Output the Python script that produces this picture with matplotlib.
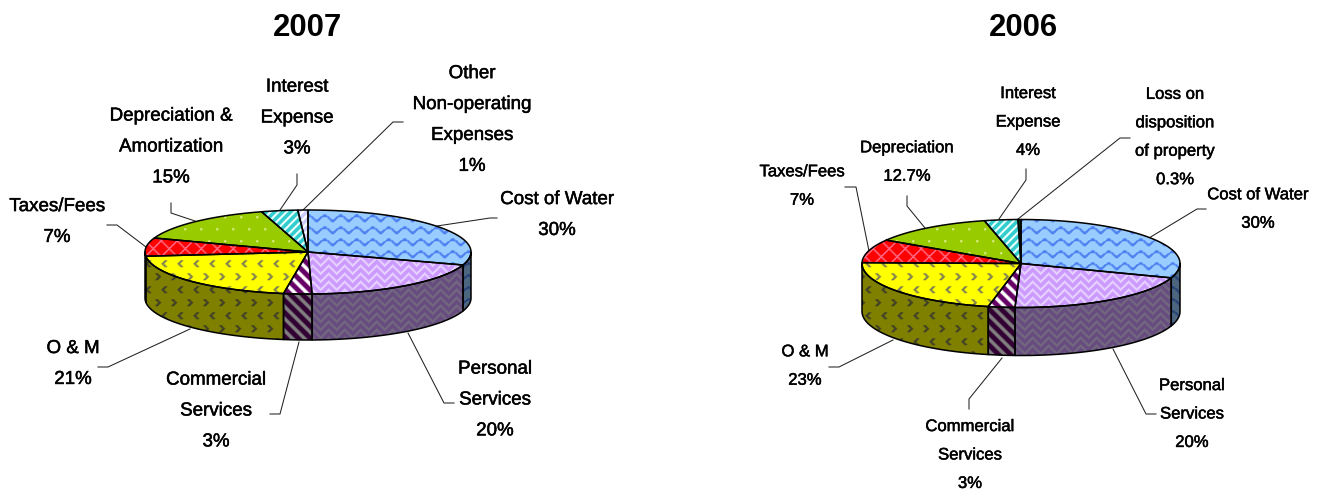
import numpy as np
import matplotlib
matplotlib.use("Agg")
import matplotlib.pyplot as plt
import matplotlib.patheffects as pe
from matplotlib.patches import PathPatch
from matplotlib.path import Path

# =========================
# DATA
# =========================
labels_2007 = ["Cost of Water", "Personal\nServices", "Commercial\nServices", "O & M",
               "Taxes/Fees", "Depreciation &\nAmortization", "Interest\nExpense",
               "Other\nNon-operating\nExpenses"]
shown_2007 = ["30%", "20%", "3%", "21%", "7%", "15%", "3%", "1%"]
values_2007 = [30.0, 19.6, 2.8, 21.0, 7.0, 15.0, 3.6, 1.0]

labels_2006 = ["Cost of Water", "Personal\nServices", "Commercial\nServices", "O & M",
               "Taxes/Fees", "Depreciation", "Interest\nExpense",
               "Loss on\ndisposition\nof property"]
shown_2006 = ["30%", "20%", "3%", "23%", "7%", "12.7%", "4%", "0.3%"]
values_2006 = [30.3, 20.3, 2.7, 22.0, 8.6, 12.4, 3.4, 0.3]

# =========================
# STYLE / LAYOUT (pixels)
# =========================
W, H = 1324, 493
fills = ["#99CCFF", "#CC99FF", "#660066", "#FFFF00", "#FF0000", "#99CC00", "#33CCCC"]
inks = ["#4D80F0", "#E6D2FF", "#FFFFFF", "#808050", "#FF6F8C", "#E4F0A0", "#E8FFFF"]
kinds = ["wave", "weave", "down", "chevron", "lattice", "dots", "up"]

label_pos_2007 = [(557, 215), (495, 400), (216, 411), (73, 364),
                  (57, 222), (171, 147), (297, 118), (472, 120)]
label_pos_2006 = [(1258, 209), (1192, 414), (970, 455), (805, 366),
                  (802, 186), (907, 162), (1028, 122), (1175, 137)]

leaders_2007 = [
    [(437, 226), (490, 218), (497, 218)],
    [(408, 333), (444, 403), (454, 403)],
    [(299, 342), (280, 414), (270, 414)],
    [(190, 329), (108, 367), (98, 367)],
    [(146, 247), (117, 225), (107, 225)],
    [(195, 221), (171, 213), (171, 203)],
    [(280, 210), (297, 185), (297, 174)],
    [(303, 210), (393, 122), (403, 122)],
]
leaders_2006 = [
    [(1149, 238), (1197, 209), (1206, 209)],
    [(1113, 349), (1146, 414), (1156, 414)],
    [(1002, 358), (969, 399), (969, 409)],
    [(893, 340), (839, 367), (829, 367)],
    [(869, 251), (856, 187), (845, 187)],
    [(925, 228), (907, 206), (907, 196)],
    [(999, 219), (1026, 180), (1026, 169)],
    [(1018, 219), (1120, 138), (1130, 138)],
]


# =========================
# FILL PATTERNS
# =========================
def pattern_mask(kind):
    yy, xx = np.mgrid[0:H, 0:W]
    if kind == "wave":
        m = ((yy + 2.6 * np.sin(xx * 2 * np.pi / 16)) % 12) < 2.6
    elif kind == "weave":
        even = (xx // 8) % 2 == 0
        m = np.where(even, (yy + xx) % 8 < 2.5, (yy - xx) % 8 < 2.5)
    elif kind == "down":
        m = ((xx - yy) % 12) < 5
    elif kind == "up":
        m = ((xx + yy) % 8) < 2.5
    elif kind == "chevron":
        rows = yy // 13
        x2 = (xx + 8 * (rows % 2)) % 16
        y2 = yy % 13
        arm = np.abs(y2 - 3)
        left = np.abs(x2 - 2 - arm) < 1.6
        right = np.abs(x2 - 7 + arm) < 1.6
        m = np.where(rows % 2 == 0, left, right) & (y2 < 7)
    elif kind == "lattice":
        m = ((xx + yy) % 16 < 2) | ((xx - yy) % 16 < 2)
    else:
        rows = yy // 12
        m = ((yy % 12) < 2) & (((xx + 8 * (rows % 2)) % 16) < 2)
    m = m.astype(float)
    # a little softening, the original is a rescaled bitmap
    return (m * 2 + np.roll(m, 1, 0) + np.roll(m, 1, 1)) / 4


def pattern_image(fill, ink, kind, shade=1.0):
    mask = pattern_mask(kind)[..., None]
    c1 = np.array(matplotlib.colors.to_rgb(fill))
    c2 = np.array(matplotlib.colors.to_rgb(ink))
    return (c1 * (1 - mask) + c2 * mask) * shade


def rim(cx, cy, a, b, t0, t1, n=80):
    t = np.radians(np.linspace(t0, t1, n))
    return np.column_stack([cx + a * np.sin(t), cy - b * np.cos(t)])


def fill_path(ax, verts, img, lw=1.1):
    path = Path(np.vstack([verts, verts[:1]]), closed=True)
    patch = PathPatch(path, facecolor="none", edgecolor="black", lw=lw, zorder=3, joinstyle="round")
    ax.add_patch(patch)
    im = ax.imshow(img, extent=(0, W, H, 0), interpolation="nearest", aspect="auto", zorder=2)
    im.set_clip_path(patch)


def draw_pie(ax, values, cx, cy, a, b, depth, styles):
    angles = np.concatenate([[0], np.cumsum(values)]) / np.sum(values) * 360
    # side wall, only the front half can be seen
    for i, (fill, ink, kind) in enumerate(styles):
        t0, t1 = max(angles[i], 90), min(angles[i + 1], 270)
        if t1 <= t0:
            continue
        top = rim(cx, cy, a, b, t0, t1)
        bottom = rim(cx, cy + depth, a, b, t1, t0)
        fill_path(ax, np.vstack([top, bottom]), pattern_image(fill, ink, kind, 0.5))
    # top face
    for i, (fill, ink, kind) in enumerate(styles):
        arc = rim(cx, cy, a, b, angles[i], angles[i + 1])
        fill_path(ax, np.vstack([[(cx, cy)], arc]), pattern_image(fill, ink, kind))


def draw_labels(ax, labels, shown, positions, leaders, size, spacing):
    for name, pct, pos, line in zip(labels, shown, positions, leaders):
        t = ax.text(pos[0], pos[1], name + "\n" + pct, ha="center", va="center",
                    family="Liberation Sans", fontsize=size, linespacing=spacing,
                    color="black", zorder=5)
        # the original text is heavier than plain regular
        t.set_path_effects([pe.withStroke(linewidth=0.35, foreground="black")])
        xs, ys = zip(*line)
        ax.plot(xs, ys, color="#222222", lw=0.75, zorder=1)


# =========================
# FIGURE
# =========================
fig = plt.figure(figsize=(W / 100, H / 100), dpi=100)
ax = fig.add_axes([0, 0, 1, 1])
ax.axis("off")

styles_2007 = list(zip(fills, inks, kinds)) + [("#CCCCFF", "#FFFFFF", "up")]
styles_2006 = list(zip(fills, inks, kinds)) + [("#003300", "#003300", "up")]

draw_pie(ax, values_2007, 308, 252, 163, 42, 46, styles_2007)
draw_pie(ax, values_2006, 1021, 263.5, 159, 44, 48, styles_2006)

draw_labels(ax, labels_2007, shown_2007, label_pos_2007, leaders_2007, 13.5, 2.07)
draw_labels(ax, labels_2006, shown_2006, label_pos_2006, leaders_2006, 12.0, 2.12)

ax.text(307, 28, "2007", ha="center", va="center", family="Liberation Sans",
        fontweight="bold", fontsize=22.4, color="black")
ax.text(1023, 28, "2006", ha="center", va="center", family="Liberation Sans",
        fontweight="bold", fontsize=22.4, color="black")

ax.set_xlim(0, W)
ax.set_ylim(H, 0)
fig.savefig("out.png", dpi=100)
